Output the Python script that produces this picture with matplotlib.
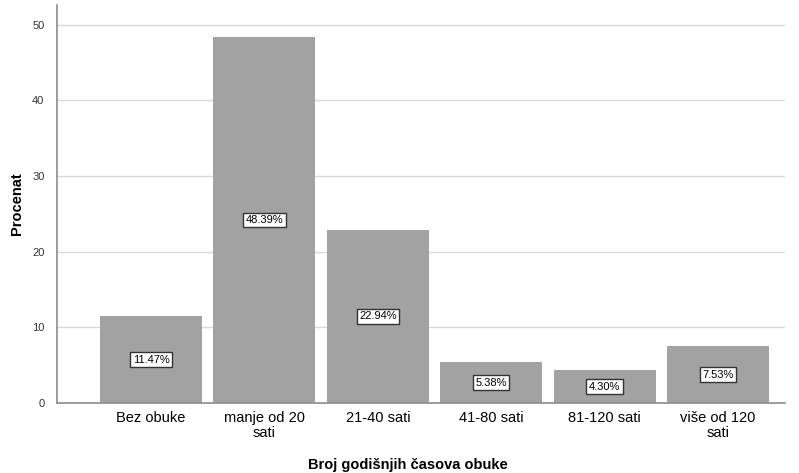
import matplotlib.pyplot as plt
import numpy as np

# Udio ispitanika po broju godišnjih časova obuke
kategorije = ['Bez obuke', 'manje od 20\nsati', '21-40 sati', '41-80 sati',
              '81-120 sati', 'više od 120\nsati']
procenti = [11.47, 48.39, 22.94, 5.38, 4.30, 7.53]

plt.rcParams['font.family'] = ['Liberation Sans', 'DejaVu Sans']

fig = plt.figure(figsize=(7.99, 4.73), dpi=100)
ax = fig.add_axes([0.0713, 0.148, 0.911, 0.841])

x = np.arange(len(kategorije))
ax.bar(x, procenti, width=0.9, color='#a2a2a2', zorder=2)

# oznake vrijednosti na sredini stubova
for xi, p in zip(x, procenti):
    ax.text(xi, p / 2, f'{p:.2f}%', ha='center', va='center', fontsize=8,
            color='black', zorder=3,
            bbox=dict(boxstyle='square,pad=0.22', facecolor='white',
                      edgecolor='#333333', linewidth=1.0))

ax.set_xlim(-0.83, 5.59)
ax.set_ylim(0, 52.6)
ax.set_yticks([0, 10, 20, 30, 40, 50])
ax.set_xticks(x)
ax.set_xticklabels(kategorije, fontsize=10.5, linespacing=1.05)
ax.tick_params(axis='y', labelsize=8, length=0, pad=9, colors='#333333')
ax.tick_params(axis='x', length=0, pad=6)

ax.grid(axis='y', color='#d9d9d9', linewidth=1, zorder=0)
ax.set_axisbelow(True)
for s in ['top', 'right']:
    ax.spines[s].set_visible(False)
for s in ['left', 'bottom']:
    ax.spines[s].set_color('#8c8c8c')
    ax.spines[s].set_linewidth(1.2)

ax.set_ylabel('Procenat', fontsize=10.5, fontweight='bold', labelpad=6)
fig.text(0.51, 0.003, 'Broj godišnjih časova obuke', ha='center', va='bottom',
         fontsize=10.5, fontweight='bold')

fig.savefig('out.png', dpi=100)
